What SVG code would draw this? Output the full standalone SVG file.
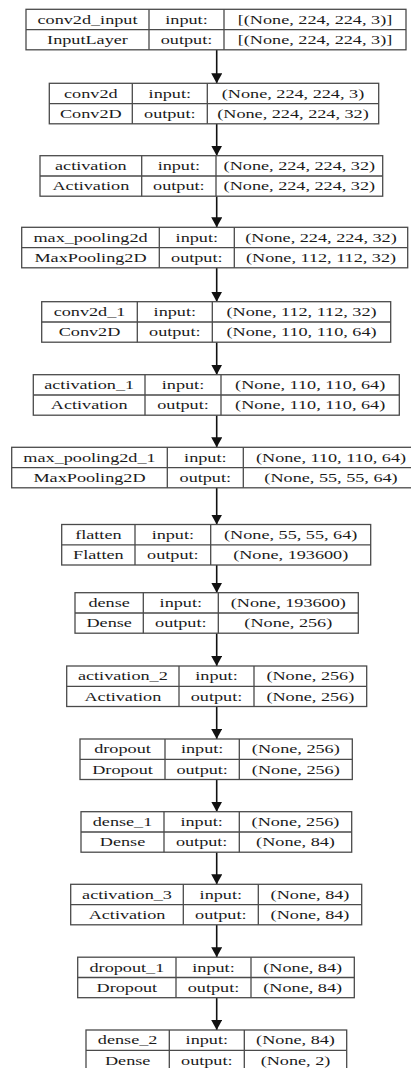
<svg xmlns="http://www.w3.org/2000/svg" width="411" height="1068" viewBox="0 0 411 1068">
<style>
.b{fill:#fff;stroke:#4a4a4a;stroke-width:1.3}
.d{stroke:#4a4a4a;stroke-width:1.3;fill:none}
text{font-family:"Liberation Serif","Times New Roman",serif;font-size:13px;fill:#1a1a1a;text-anchor:middle}
.e{stroke:#111;stroke-width:1.6;fill:none;marker-end:url(#a)}
</style>
<defs>
<marker id="a" markerUnits="userSpaceOnUse" markerWidth="10" markerHeight="11" refX="10" refY="5.5" orient="auto" viewBox="0 0 10 11">
<path d="M0,0 L10,5.5 L0,11 Z" fill="#111"/>
</marker>
</defs>
<rect width="411" height="1068" fill="#fff"/>
<g id="connectors">
<line class="e" x1="216.7" y1="49.8" x2="216.7" y2="83.3"/>
<line class="e" x1="216.7" y1="123.8" x2="216.7" y2="155.7"/>
<line class="e" x1="216.7" y1="196.2" x2="216.7" y2="227.3"/>
<line class="e" x1="216.7" y1="267.8" x2="216.7" y2="301.7"/>
<line class="e" x1="216.7" y1="342.2" x2="216.7" y2="374.7"/>
<line class="e" x1="216.7" y1="415.2" x2="216.7" y2="447.3"/>
<line class="e" x1="216.7" y1="487.8" x2="216.7" y2="524.5"/>
<line class="e" x1="216.7" y1="565" x2="216.7" y2="592.7"/>
<line class="e" x1="216.7" y1="633.2" x2="216.7" y2="666"/>
<line class="e" x1="216.7" y1="706.5" x2="216.7" y2="739"/>
<line class="e" x1="216.7" y1="779.5" x2="216.7" y2="811.7"/>
<line class="e" x1="216.7" y1="852.2" x2="216.7" y2="884.3"/>
<line class="e" x1="216.7" y1="924.8" x2="216.7" y2="957.2"/>
<line class="e" x1="216.7" y1="997.7" x2="216.7" y2="1030"/>
</g>
<g id="n1">
<rect class="b" x="26" y="9.3" width="380" height="40.5"/>
<path class="d" d="M26,29.6H406M149,9.3V49.8M224,9.3V49.8"/>
<text transform="translate(87.5,23.6) scale(1.4,1)">conv2d_input</text>
<text transform="translate(186.5,23.6) scale(1.4,1)">input:</text>
<text transform="translate(315,23.6) scale(1.4,1)">[(None, 224, 224, 3)]</text>
<text transform="translate(87.5,43.8) scale(1.4,1)">InputLayer</text>
<text transform="translate(186.5,43.8) scale(1.4,1)">output:</text>
<text transform="translate(315,43.8) scale(1.4,1)">[(None, 224, 224, 3)]</text>
</g>
<g id="n2">
<rect class="b" x="49.3" y="83.3" width="329.4" height="40.5"/>
<path class="d" d="M49.3,103.6H378.7M132.3,83.3V123.8M207.3,83.3V123.8"/>
<text transform="translate(90.8,97.6) scale(1.4,1)">conv2d</text>
<text transform="translate(169.8,97.6) scale(1.4,1)">input:</text>
<text transform="translate(293,97.6) scale(1.4,1)">(None, 224, 224, 3)</text>
<text transform="translate(90.8,117.8) scale(1.4,1)">Conv2D</text>
<text transform="translate(169.8,117.8) scale(1.4,1)">output:</text>
<text transform="translate(293,117.8) scale(1.4,1)">(None, 224, 224, 32)</text>
</g>
<g id="n3">
<rect class="b" x="40" y="155.7" width="342.7" height="40.5"/>
<path class="d" d="M40,176H382.7M141.7,155.7V196.2M216,155.7V196.2"/>
<text transform="translate(90.85,170) scale(1.4,1)">activation</text>
<text transform="translate(178.85,170) scale(1.4,1)">input:</text>
<text transform="translate(299.35,170) scale(1.4,1)">(None, 224, 224, 32)</text>
<text transform="translate(90.85,190.2) scale(1.4,1)">Activation</text>
<text transform="translate(178.85,190.2) scale(1.4,1)">output:</text>
<text transform="translate(299.35,190.2) scale(1.4,1)">(None, 224, 224, 32)</text>
</g>
<g id="n4">
<rect class="b" x="21.7" y="227.3" width="386" height="40.5"/>
<path class="d" d="M21.7,247.6H407.7M159.3,227.3V267.8M234.3,227.3V267.8"/>
<text transform="translate(90.5,241.6) scale(1.4,1)">max_pooling2d</text>
<text transform="translate(196.8,241.6) scale(1.4,1)">input:</text>
<text transform="translate(321,241.6) scale(1.4,1)">(None, 224, 224, 32)</text>
<text transform="translate(90.5,261.8) scale(1.4,1)">MaxPooling2D</text>
<text transform="translate(196.8,261.8) scale(1.4,1)">output:</text>
<text transform="translate(321,261.8) scale(1.4,1)">(None, 112, 112, 32)</text>
</g>
<g id="n5">
<rect class="b" x="41.7" y="301.7" width="349" height="40.5"/>
<path class="d" d="M41.7,322H390.7M137.3,301.7V342.2M212.3,301.7V342.2"/>
<text transform="translate(89.5,316) scale(1.4,1)">conv2d_1</text>
<text transform="translate(174.8,316) scale(1.4,1)">input:</text>
<text transform="translate(301.5,316) scale(1.4,1)">(None, 112, 112, 32)</text>
<text transform="translate(89.5,336.2) scale(1.4,1)">Conv2D</text>
<text transform="translate(174.8,336.2) scale(1.4,1)">output:</text>
<text transform="translate(301.5,336.2) scale(1.4,1)">(None, 110, 110, 64)</text>
</g>
<g id="n6">
<rect class="b" x="33.3" y="374.7" width="366" height="40.5"/>
<path class="d" d="M33.3,395H399.3M145,374.7V415.2M221,374.7V415.2"/>
<text transform="translate(89.15,389) scale(1.4,1)">activation_1</text>
<text transform="translate(183,389) scale(1.4,1)">input:</text>
<text transform="translate(310.15,389) scale(1.4,1)">(None, 110, 110, 64)</text>
<text transform="translate(89.15,409.2) scale(1.4,1)">Activation</text>
<text transform="translate(183,409.2) scale(1.4,1)">output:</text>
<text transform="translate(310.15,409.2) scale(1.4,1)">(None, 110, 110, 64)</text>
</g>
<g id="n7">
<rect class="b" x="11.7" y="447.3" width="405" height="40.5"/>
<path class="d" d="M11.7,467.6H416.7M167.3,447.3V487.8M243.3,447.3V487.8"/>
<text transform="translate(89.5,461.6) scale(1.4,1)">max_pooling2d_1</text>
<text transform="translate(205.3,461.6) scale(1.4,1)">input:</text>
<text transform="translate(331,461.6) scale(1.4,1)">(None, 110, 110, 64)</text>
<text transform="translate(89.5,481.8) scale(1.4,1)">MaxPooling2D</text>
<text transform="translate(205.3,481.8) scale(1.4,1)">output:</text>
<text transform="translate(331,481.8) scale(1.4,1)">(None, 55, 55, 64)</text>
</g>
<g id="n8">
<rect class="b" x="61.7" y="524.5" width="309" height="40.5"/>
<path class="d" d="M61.7,544.8H370.7M135,524.5V565M210.7,524.5V565"/>
<text transform="translate(98.35,538.8) scale(1.4,1)">flatten</text>
<text transform="translate(172.85,538.8) scale(1.4,1)">input:</text>
<text transform="translate(290.7,538.8) scale(1.4,1)">(None, 55, 55, 64)</text>
<text transform="translate(98.35,559) scale(1.4,1)">Flatten</text>
<text transform="translate(172.85,559) scale(1.4,1)">output:</text>
<text transform="translate(290.7,559) scale(1.4,1)">(None, 193600)</text>
</g>
<g id="n9">
<rect class="b" x="75" y="592.7" width="283.3" height="40.5"/>
<path class="d" d="M75,613H358.3M143.3,592.7V633.2M218.3,592.7V633.2"/>
<text transform="translate(109.15,607) scale(1.4,1)">dense</text>
<text transform="translate(180.8,607) scale(1.4,1)">input:</text>
<text transform="translate(288.3,607) scale(1.4,1)">(None, 193600)</text>
<text transform="translate(109.15,627.2) scale(1.4,1)">Dense</text>
<text transform="translate(180.8,627.2) scale(1.4,1)">output:</text>
<text transform="translate(288.3,627.2) scale(1.4,1)">(None, 256)</text>
</g>
<g id="n10">
<rect class="b" x="66.7" y="666" width="300" height="40.5"/>
<path class="d" d="M66.7,686.3H366.7M179,666V706.5M254,666V706.5"/>
<text transform="translate(122.85,680.3) scale(1.4,1)">activation_2</text>
<text transform="translate(216.5,680.3) scale(1.4,1)">input:</text>
<text transform="translate(310.35,680.3) scale(1.4,1)">(None, 256)</text>
<text transform="translate(122.85,700.5) scale(1.4,1)">Activation</text>
<text transform="translate(216.5,700.5) scale(1.4,1)">output:</text>
<text transform="translate(310.35,700.5) scale(1.4,1)">(None, 256)</text>
</g>
<g id="n11">
<rect class="b" x="80" y="739" width="272.3" height="40.5"/>
<path class="d" d="M80,759.3H352.3M165,739V779.5M239.3,739V779.5"/>
<text transform="translate(122.5,753.3) scale(1.4,1)">dropout</text>
<text transform="translate(202.15,753.3) scale(1.4,1)">input:</text>
<text transform="translate(295.8,753.3) scale(1.4,1)">(None, 256)</text>
<text transform="translate(122.5,773.5) scale(1.4,1)">Dropout</text>
<text transform="translate(202.15,773.5) scale(1.4,1)">output:</text>
<text transform="translate(295.8,773.5) scale(1.4,1)">(None, 256)</text>
</g>
<g id="n12">
<rect class="b" x="81" y="811.7" width="270.7" height="40.5"/>
<path class="d" d="M81,832H351.7M164,811.7V852.2M239.3,811.7V852.2"/>
<text transform="translate(122.5,826) scale(1.4,1)">dense_1</text>
<text transform="translate(201.65,826) scale(1.4,1)">input:</text>
<text transform="translate(295.5,826) scale(1.4,1)">(None, 256)</text>
<text transform="translate(122.5,846.2) scale(1.4,1)">Dense</text>
<text transform="translate(201.65,846.2) scale(1.4,1)">output:</text>
<text transform="translate(295.5,846.2) scale(1.4,1)">(None, 84)</text>
</g>
<g id="n13">
<rect class="b" x="70.7" y="884.3" width="291" height="40.5"/>
<path class="d" d="M70.7,904.6H361.7M183.3,884.3V924.8M258.3,884.3V924.8"/>
<text transform="translate(127,898.6) scale(1.4,1)">activation_3</text>
<text transform="translate(220.8,898.6) scale(1.4,1)">input:</text>
<text transform="translate(310,898.6) scale(1.4,1)">(None, 84)</text>
<text transform="translate(127,918.8) scale(1.4,1)">Activation</text>
<text transform="translate(220.8,918.8) scale(1.4,1)">output:</text>
<text transform="translate(310,918.8) scale(1.4,1)">(None, 84)</text>
</g>
<g id="n14">
<rect class="b" x="77.7" y="957.2" width="276.6" height="40.5"/>
<path class="d" d="M77.7,977.5H354.3M176,957.2V997.7M251,957.2V997.7"/>
<text transform="translate(126.85,971.5) scale(1.4,1)">dropout_1</text>
<text transform="translate(213.5,971.5) scale(1.4,1)">input:</text>
<text transform="translate(302.65,971.5) scale(1.4,1)">(None, 84)</text>
<text transform="translate(126.85,991.7) scale(1.4,1)">Dropout</text>
<text transform="translate(213.5,991.7) scale(1.4,1)">output:</text>
<text transform="translate(302.65,991.7) scale(1.4,1)">(None, 84)</text>
</g>
<g id="n15">
<rect class="b" x="86" y="1030" width="260.7" height="40.5"/>
<path class="d" d="M86,1050.3H346.7M169.3,1030V1070.5M244.3,1030V1070.5"/>
<text transform="translate(127.65,1044.3) scale(1.4,1)">dense_2</text>
<text transform="translate(206.8,1044.3) scale(1.4,1)">input:</text>
<text transform="translate(295.5,1044.3) scale(1.4,1)">(None, 84)</text>
<text transform="translate(127.65,1064.5) scale(1.4,1)">Dense</text>
<text transform="translate(206.8,1064.5) scale(1.4,1)">output:</text>
<text transform="translate(295.5,1064.5) scale(1.4,1)">(None, 2)</text>
</g>
</svg>
